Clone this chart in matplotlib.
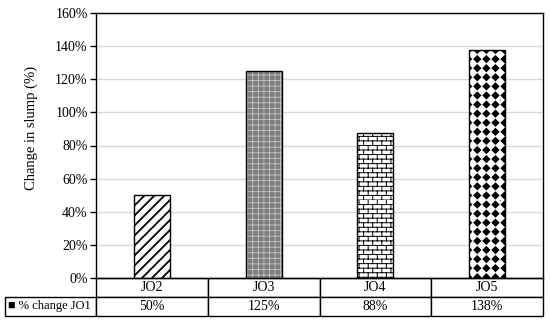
import warnings
import numpy as np
import matplotlib
matplotlib.use("Agg")
import matplotlib.pyplot as plt
from matplotlib import hatch as mhatch
from matplotlib.path import Path
from matplotlib.ticker import PercentFormatter

warnings.filterwarnings("ignore")

categories = ["JO2", "JO3", "JO4", "JO5"]
values = [0.50, 1.25, 0.875, 1.375]
table_labels = ["50%", "125%", "88%", "138%"]
row_label = "\u25a0 % change JO1"
y_label = "Change in slump (%)"


# custom hatches: diagonal stripes ('s'), brick wall ('b'), filled diamonds ('d')
class StripeHatch(mhatch.HatchPatternBase):
    def __init__(self, hatch, density):
        self.n = 20 if "s" in hatch else 0
        self.num_vertices = (self.n + 1) * 2

    def set_vertices_and_codes(self, vertices, codes):
        steps = np.linspace(-0.5, 0.5, self.n + 1)
        vertices[0::2, 0] = 0.0 + steps
        vertices[0::2, 1] = 0.0 - steps
        vertices[1::2, 0] = 1.0 + steps
        vertices[1::2, 1] = 1.0 - steps
        codes[0::2] = Path.MOVETO
        codes[1::2] = Path.LINETO


class BrickHatch(mhatch.HatchPatternBase):
    def __init__(self, hatch, density):
        self.rows = 22 if "b" in hatch else 0
        self.cols = 11
        self.num_vertices = self.rows * 2 + self.rows * self.cols * 2

    def set_vertices_and_codes(self, vertices, codes):
        h = 1.0 / self.rows
        w = 1.0 / self.cols
        pts = []
        for r in range(self.rows):
            pts += [(0, r * h), (1, r * h)]
        for r in range(self.rows):
            off = 0 if r % 2 == 0 else w / 2
            for c in range(self.cols):
                x = c * w + off
                pts += [(x, r * h), (x, (r + 1) * h)]
        vertices[:] = pts
        codes[0::2] = Path.MOVETO
        codes[1::2] = Path.LINETO


class DiamondHatch(mhatch.HatchPatternBase):
    def __init__(self, hatch, density):
        self.n = 11 if "d" in hatch else 0
        self.num_vertices = self.n * self.n * 5

    def set_vertices_and_codes(self, vertices, codes):
        s = 1.0 / self.n
        r = s * 0.33
        shape = np.array([(0, -r), (r, 0), (0, r), (-r, 0), (0, -r)])
        pts = []
        cds = []
        for i in range(self.n):
            for j in range(self.n):
                pts.append(shape + [(i + 0.5) * s, (j + 0.5) * s])
                cds += [Path.MOVETO, Path.LINETO, Path.LINETO, Path.LINETO, Path.CLOSEPOLY]
        vertices[:] = np.concatenate(pts)
        codes[:] = cds


mhatch._hatch_types += [StripeHatch, BrickHatch, DiamondHatch]

plt.rcParams["font.family"] = ["Liberation Serif", "DejaVu Sans"]
plt.rcParams["font.size"] = 10

faces = ["white", "#7d7d7d", "white", "white"]
hatch_colors = ["black", "#c4c4c4", "black", "black"]
hatches = ["s", "+++", "b", "d"]
hatch_lws = [1.3, 0.6, 0.7, 1.2]

fig = plt.figure(figsize=(5.5, 3.2), dpi=100)
ax = fig.add_axes([96 / 550, 42 / 320, 447 / 550, 265 / 320])

x = np.arange(len(categories))
bars = ax.bar(x, values, width=0.32, linewidth=0, zorder=2)
for b, fc, hc, h, hl in zip(bars, faces, hatch_colors, hatches, hatch_lws):
    b.set_facecolor(fc)
    b.set_edgecolor(hc)
    b.set_hatch(h)
    if hasattr(b, "set_hatch_linewidth"):
        b.set_hatch_linewidth(hl)
ax.bar(x, values, width=0.32, fill=False, edgecolor="black", linewidth=1, zorder=3)

ax.set_xlim(-0.5, len(categories) - 0.5)
ax.set_ylim(0, 1.6)
ax.set_yticks(np.arange(0, 1.61, 0.2))
ax.yaxis.set_major_formatter(PercentFormatter(1.0, decimals=0))
ax.set_xticks([])
ax.tick_params(axis="y", direction="out", length=4, width=1, colors="black", labelsize=10, pad=2)
ax.grid(axis="y", color="#d9d9d9", linewidth=1, zorder=0)
ax.set_axisbelow(True)
for sp in ax.spines.values():
    sp.set_color("black")
    sp.set_linewidth(1)

ax.set_ylabel(y_label, fontsize=10.5)
ax.yaxis.set_label_coords(-0.13, 0.566)

tbl = ax.table(cellText=[table_labels], rowLabels=[row_label], colLabels=categories,
               colWidths=[0.25] * len(categories), cellLoc="center", rowLoc="left",
               bbox=[0, -38 / 265, 1, 38 / 265])
tbl._autoColumns = []
tbl.auto_set_font_size(False)
tbl.set_fontsize(10)
lab = tbl[(1, -1)]
lab.set_width(91 / 447)
lab.PAD = 0.03
lab.get_text().set_fontsize(9)
for cell in tbl.get_celld().values():
    cell.set_edgecolor("black")
    cell.set_linewidth(1)

fig.savefig("out.png", dpi=100)
